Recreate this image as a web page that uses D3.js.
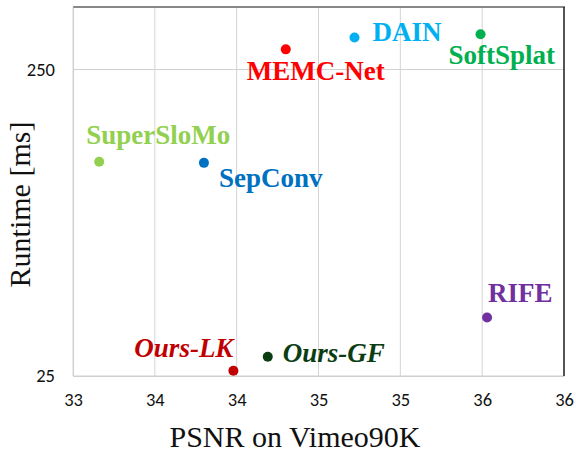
<!DOCTYPE html>
<html><head><meta charset="utf-8">
<script src="https://cdn.jsdelivr.net/npm/d3@7"></script>
</head><body style="margin:0;background:#fff">
<svg id="c" width="576" height="453"></svg>
<script>
const methods = ["SuperSloMo","SepConv","MEMC-Net","DAIN","SoftSplat","RIFE","Ours-LK","Ours-GF"];
const psnr    = [33.16, 33.80, 34.30, 34.72, 35.49, 35.53, 33.98, 34.19];
const runtime = [125, 124, 291, 318, 326, 38.8, 26, 28.9];
const colors  = ["#92D050","#0070C0","#FF0000","#00B0F0","#00B050","#7030A0","#C00000","#0B3D12"];
const italic  = [false,false,false,false,false,false,true,true];
const labelDx = [-13, 15, -39, 18, -32, 1, 0, 15];
const labelDy = [-18, 24, 31, 3, 30, -16, -14, 5];
const anchors = ["start","start","start","start","start","start","end","start"];
const xTicks = [33, 33.5, 34, 34.5, 35, 35.5, 36];
const xTickLabels = ["33","34","34","35","35","36","36"];
const yTicks = [25, 250];
const yTickLabels = ["25","250"];

const serifFams = ["Liberation Serif", "Tinos"];
const tickFams = ["Carlito", "Liberation Sans"];

const svg = d3.select("#c");
const L = 73, R = 564, T = 7, B = 376;
const x = d3.scaleLinear().domain([33, 36]).range([L, R]);
const y = d3.scaleLog().domain([25, 400]).range([B, T]);

svg.append("g").selectAll("line").data(xTicks).join("line")
  .attr("x1", d => x(d)).attr("x2", d => x(d)).attr("y1", T).attr("y2", B)
  .attr("stroke", "#d4d4d4").attr("stroke-width", 1);
svg.append("g").selectAll("line").data(yTicks).join("line")
  .attr("x1", L).attr("x2", R).attr("y1", d => y(d)).attr("y2", d => y(d))
  .attr("stroke", "#d0d0d0").attr("stroke-width", 1);
svg.append("line").attr("x1", L).attr("x2", R+1).attr("y1", T).attr("y2", T).attr("stroke", "#888").attr("stroke-width", 2);
svg.append("line").attr("x1", R).attr("x2", R).attr("y1", T).attr("y2", B).attr("stroke", "#222").attr("stroke-width", 1.5);

const xAxis = d3.axisBottom(x).tickValues(xTicks).tickFormat((d,i) => xTickLabels[i]).tickSize(0).tickPadding(17);
const gx = svg.append("g").attr("transform", `translate(0,${B})`).call(xAxis);
gx.select(".domain").attr("stroke", "#d0d0d0");

const yAxis = d3.axisLeft(y).tickValues(yTicks).tickFormat((d,i) => yTickLabels[i]).tickSize(0).tickPadding(18);
const gy = svg.append("g").attr("transform", `translate(${L},0)`).call(yAxis);
gy.select(".domain").attr("stroke", "#d0d0d0");

const tickTexts = svg.selectAll(".tick text").attr("fill", "#111");

const xTitle = svg.append("text").attr("x", 295).attr("y", 447).attr("text-anchor", "middle")
  .attr("fill", "#111").text("PSNR on Vimeo90K");
const yTitle = svg.append("text").attr("transform", "translate(30,204.5) rotate(-90)").attr("text-anchor", "middle")
  .attr("fill", "#111").text("Runtime [ms]");

const idx = d3.range(methods.length);
svg.append("g").selectAll("circle").data(idx).join("circle")
  .attr("cx", i => x(psnr[i])).attr("cy", i => y(runtime[i])).attr("r", 5)
  .attr("fill", i => colors[i]);

const labels = svg.append("g").selectAll("text").data(idx).join("text")
  .attr("x", i => x(psnr[i]) + labelDx[i]).attr("y", i => y(runtime[i]) + labelDy[i])
  .attr("text-anchor", i => anchors[i])
  .attr("fill", i => colors[i])
  .text(i => methods[i]);

function applyFonts() {
  const sf = serifFams.map(f => `"${f}"`).join(", ") + ", serif";
  const tf = tickFams.map(f => `"${f}"`).join(", ") + ", sans-serif";
  [gx, gy].forEach(g => g.attr("font-family", tf).attr("font-size", 18.5));
  tickTexts.style("font-family", tf).style("font-size", "18.5px");
  [xTitle, yTitle].forEach(t => t.style("font-family", sf).style("font-size", "30px"));
  labels.style("font-family", sf).style("font-size", "27px").style("font-weight", "bold")
    .style("font-style", i => italic[i] ? "italic" : "normal");
  svg.selectAll("text").each(function(){ this.getComputedTextLength(); });
}
applyFonts();
if (document.fonts) {
  document.fonts.load('bold 27px "Liberation Serif"').then(applyFonts).catch(() => {});
  document.fonts.load('18px "Carlito"').then(applyFonts).catch(() => {});
  document.fonts.ready.then(applyFonts);
}
</script>
</body></html>
